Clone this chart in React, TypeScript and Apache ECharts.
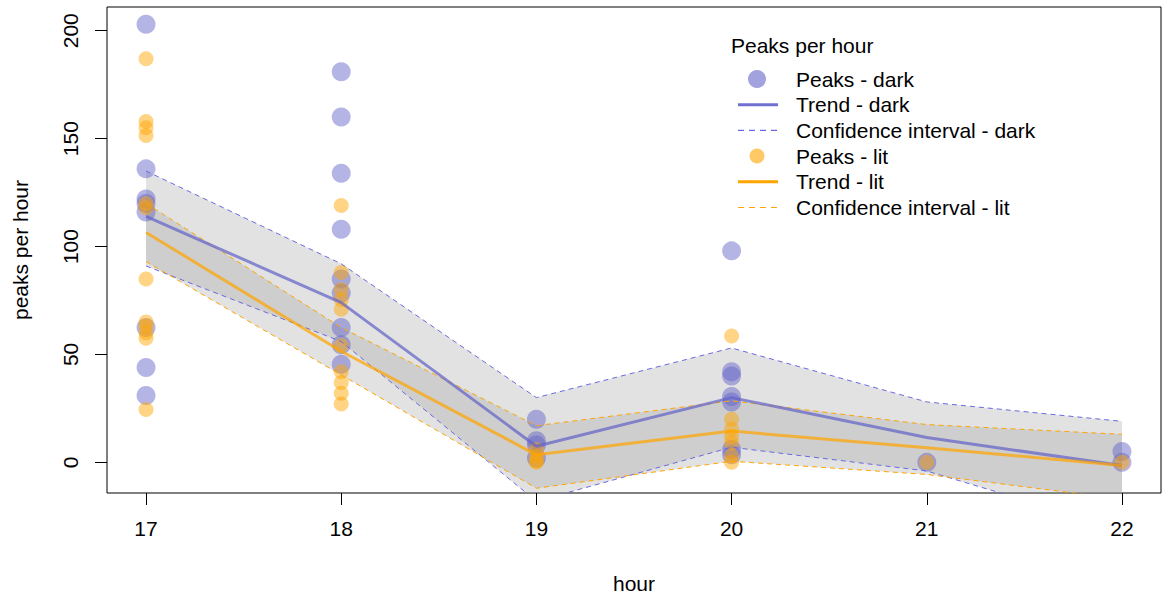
import React, { useEffect, useRef } from "react";
import * as echarts from "echarts";

// Observation hours (x axis)
const hours = [17, 18, 19, 20, 21, 22];

// Individual peak counts per hour, one list per hour
const darkPeaks: number[][] = [
  [203, 136, 122, 120, 116, 62.5, 44, 31],
  [181, 160, 134, 108, 85, 78.5, 62.5, 54.5, 45.5],
  [20, 10, 8, 2],
  [98, 42, 40, 30.5, 28, 6, 3.5],
  [0],
  [5, 0],
];
const litPeaks: number[][] = [
  [187, 158, 155, 151.5, 120, 118, 85, 65, 63, 60, 57.5, 24.5],
  [119, 88, 80, 75.5, 71, 54, 42, 37, 32, 27],
  [6, 3, 0.5, 0],
  [58.5, 20, 15.5, 12, 9, 3, 0],
  [0],
  [0],
];

// Fitted trend and confidence limits per hour
const darkTrend = [114, 74, 7.5, 30, 11.5, -1.5];
const darkUpper = [135, 92, 30, 53, 28, 19];
const darkLower = [91, 56, -18, 7, -4, -31];
const litTrend = [106.5, 51.5, 3.5, 14.5, 6.8, -1.5];
const litUpper = [120, 62.5, 17, 28.5, 17.5, 13];
const litLower = [93, 40.5, -12, 0.5, -5.6, -17];

const yTicks = [0, 50, 100, 150, 200];

const legendTitle = "Peaks per hour";
const legendLabels = [
  "Peaks - dark",
  "Trend - dark",
  "Confidence interval - dark",
  "Peaks - lit",
  "Trend - lit",
  "Confidence interval - lit",
];

const FONT = "'Liberation Sans', Arial, sans-serif";
const FS = 21;
const DARK_PT = "rgba(100,100,200,0.6)";
const LIT_PT = "rgba(255,165,0,0.6)";
const DARK_LINE = "rgba(100,100,200,0.72)";
const LIT_LINE = "rgba(255,165,0,0.72)";
const DARK_DASH = "#6a6ae0";
const LIT_DASH = "#ffa500";
const BAND = "rgba(160,160,160,0.3)";

const pairs = (vals: number[]) => hours.map((h, i) => [h, vals[i]]);
const points = (groups: number[][]) =>
  hours.flatMap((h, i) => groups[i].map((v) => [h, v]));

// Shaded confidence band: one polygon through the upper limits and back along the lower ones
function bandSeries(lower: number[], upper: number[]) {
  return {
    type: "custom",
    silent: true,
    clip: true,
    data: hours.map((h, i) => [h, lower[i], upper[i]]),
    encode: { x: 0, y: [1, 2] },
    renderItem: (params: any, api: any) => {
      if (params.dataIndex !== 0) return null;
      const top = hours.map((h, i) => api.coord([h, upper[i]]));
      const bottom = hours.map((h, i) => api.coord([h, lower[i]])).reverse();
      const cs = params.coordSys;
      return {
        type: "polygon",
        shape: { points: [...top, ...bottom] },
        style: { fill: BAND, stroke: "none" },
        clipPath: {
          type: "rect",
          shape: { x: cs.x, y: cs.y, width: cs.width, height: cs.height },
        },
      };
    },
  };
}

function dashSeries(vals: number[], color: string) {
  return {
    type: "line",
    data: pairs(vals),
    symbol: "none",
    silent: true,
    lineStyle: { color, width: 1, type: [5, 4] },
  };
}

function buildLegend() {
  const x0 = 738;
  const x1 = 778;
  const cx = 757;
  const tx = 796;
  const rows = legendLabels.map((_, i) => 79 + i * 25.7);
  const items: any[] = [
    {
      type: "text",
      x: 731,
      y: 45,
      style: {
        text: legendTitle,
        font: `${FS}px ${FONT}`,
        fill: "#000",
        verticalAlign: "middle",
        align: "left",
      },
    },
  ];
  legendLabels.forEach((label, i) => {
    items.push({
      type: "text",
      x: tx,
      y: rows[i],
      style: {
        text: label,
        font: `${FS}px ${FONT}`,
        fill: "#000",
        verticalAlign: "middle",
        align: "left",
      },
    });
  });
  items.push({ type: "circle", shape: { cx, cy: rows[0], r: 9 }, style: { fill: DARK_PT } });
  items.push({
    type: "line",
    shape: { x1: x0, y1: rows[1], x2: x1, y2: rows[1] },
    style: { stroke: "#7070d0", lineWidth: 3 },
  });
  items.push({
    type: "line",
    shape: { x1: x0, y1: rows[2], x2: x1, y2: rows[2] },
    style: { stroke: DARK_DASH, lineWidth: 1.2, lineDash: [6, 5] },
  });
  items.push({ type: "circle", shape: { cx, cy: rows[3], r: 7.5 }, style: { fill: LIT_PT } });
  items.push({
    type: "line",
    shape: { x1: x0, y1: rows[4], x2: x1, y2: rows[4] },
    style: { stroke: "#ffa500", lineWidth: 3 },
  });
  items.push({
    type: "line",
    shape: { x1: x0, y1: rows[5], x2: x1, y2: rows[5] },
    style: { stroke: LIT_DASH, lineWidth: 1.2, lineDash: [6, 5] },
  });
  return items;
}

export default function App() {
  const ref = useRef<HTMLDivElement>(null);

  useEffect(() => {
    if (!ref.current) return;
    const chart = echarts.init(ref.current, undefined, { renderer: "svg" });
    const axisText = { fontSize: FS, color: "#000", fontFamily: FONT };
    chart.setOption({
      animation: false,
      backgroundColor: "#fff",
      grid: {
        left: 107,
        right: 1,
        top: 7,
        bottom: 105,
        show: true,
        borderColor: "#000",
        borderWidth: 1,
        backgroundColor: "transparent",
        containLabel: false,
      },
      xAxis: {
        type: "value",
        min: 16.8,
        max: 22.2,
        axisLine: { show: false, onZero: false },
        splitLine: { show: false },
        axisTick: {
          show: true,
          length: 12,
          lineStyle: { color: "#000" },
          customValues: hours,
        },
        axisLabel: { ...axisText, margin: 25, customValues: hours },
        name: "hour",
        nameLocation: "middle",
        nameGap: 80,
        nameTextStyle: axisText,
      },
      yAxis: {
        type: "value",
        min: -14.2,
        max: 211,
        axisLine: { show: false, onZero: false },
        splitLine: { show: false },
        axisTick: {
          show: true,
          length: 12,
          lineStyle: { color: "#000" },
          customValues: yTicks,
        },
        axisLabel: { ...axisText, margin: 26, rotate: 90, customValues: yTicks },
        name: "peaks per hour",
        nameLocation: "middle",
        nameGap: 76,
        nameTextStyle: axisText,
      },
      series: [
        bandSeries(darkLower, darkUpper),
        bandSeries(litLower, litUpper),
        dashSeries(darkUpper, DARK_DASH),
        dashSeries(darkLower, DARK_DASH),
        dashSeries(litUpper, LIT_DASH),
        dashSeries(litLower, LIT_DASH),
        {
          type: "scatter",
          data: points(darkPeaks),
          symbolSize: 19,
          itemStyle: { color: DARK_PT },
          silent: true,
        },
        {
          type: "scatter",
          data: points(litPeaks),
          symbolSize: 15,
          itemStyle: { color: LIT_PT },
          silent: true,
        },
        {
          type: "line",
          data: pairs(darkTrend),
          symbol: "none",
          silent: true,
          lineStyle: { color: DARK_LINE, width: 3 },
        },
        {
          type: "line",
          data: pairs(litTrend),
          symbol: "none",
          silent: true,
          lineStyle: { color: LIT_LINE, width: 3 },
        },
      ],
      graphic: buildLegend(),
    });
    return () => chart.dispose();
  }, []);

  return (
    <div
      ref={ref}
      style={{ position: "fixed", left: 0, top: 0, width: 1162, height: 599, background: "#fff" }}
    />
  );
}
